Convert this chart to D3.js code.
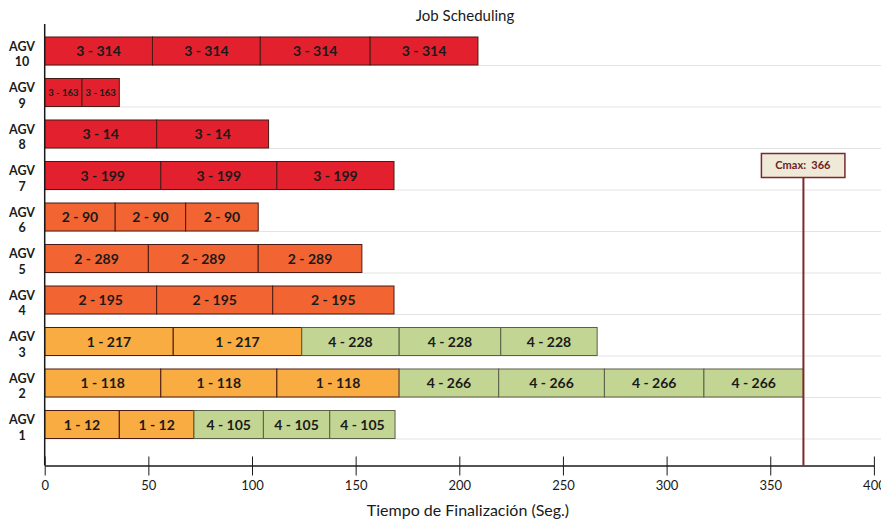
<!DOCTYPE html>
<html><head><meta charset="utf-8">
<script src="https://cdn.jsdelivr.net/npm/d3@7"></script>
<style>body{margin:0;background:#fff}svg{display:block}</style>
</head><body>
<svg id="c" width="881" height="521"></svg>
<script>
const agvNames = ["10","9","8","7","6","5","4","3","2","1"];
const taskLabels = {
  "10": ["3 - 314","3 - 314","3 - 314","3 - 314"],
  "9":  ["3 - 163","3 - 163"],
  "8":  ["3 - 14","3 - 14"],
  "7":  ["3 - 199","3 - 199","3 - 199"],
  "6":  ["2 - 90","2 - 90","2 - 90"],
  "5":  ["2 - 289","2 - 289","2 - 289"],
  "4":  ["2 - 195","2 - 195","2 - 195"],
  "3":  ["1 - 217","1 - 217","4 - 228","4 - 228","4 - 228"],
  "2":  ["1 - 118","1 - 118","1 - 118","4 - 266","4 - 266","4 - 266","4 - 266"],
  "1":  ["1 - 12","1 - 12","4 - 105","4 - 105","4 - 105"]
};
const taskDurations = {
  "10": [52, 52, 53, 52],
  "9":  [18, 18],
  "8":  [54, 54],
  "7":  [56, 56, 56.5],
  "6":  [34, 34, 35],
  "5":  [50, 53, 50],
  "4":  [54, 56, 58.5],
  "3":  [62, 62, 47, 49, 46.5],
  "2":  [56, 56, 59, 48, 51, 48, 48],
  "1":  [36, 36, 33.5, 32, 31.5]
};
const xTicks = [0,50,100,150,200,250,300,350,400];
const cmax = 366;
const jobColors = {"1":"#F9AC42","2":"#F26532","3":"#E3202D","4":"#C3D592"};

const svg = d3.select("#c");
const font = "Lato, 'Open Sans', sans-serif";
const x = d3.scaleLinear().domain([0,400]).range([44.7, 873.9]);
const y = d3.scaleBand().domain(agvNames).range([30.25, 445.25]).paddingInner(0.325).paddingOuter(0.1625);
const axisY = 465.5;

// gridlines at bar bottoms
svg.append("g").selectAll("line").data(agvNames).join("line")
  .attr("x1", x(0)).attr("x2", 881)
  .attr("y1", d => y(d) + y.bandwidth() + 0.5).attr("y2", d => y(d) + y.bandwidth() + 0.5)
  .attr("stroke", "#e3e3e3").attr("stroke-width", 1);

// build segments
const segs = [];
agvNames.forEach(a => {
  let t = 0;
  taskDurations[a].forEach((d, i) => {
    segs.push({agv: a, start: t, end: t + d, label: taskLabels[a][i], job: taskLabels[a][i].split(" ")[0]});
    t += d;
  });
});

const g = svg.append("g");
g.selectAll("rect").data(segs).join("rect")
  .attr("x", d => x(d.start)).attr("width", d => x(d.end) - x(d.start))
  .attr("y", d => y(d.agv)).attr("height", y.bandwidth())
  .attr("fill", d => jobColors[d.job])
  .attr("stroke", d => d.job === "4" ? "#5a5f48" : "#4a1a14").attr("stroke-width", 1);

g.selectAll("text").data(segs).join("text")
  .attr("x", d => (x(d.start) + x(d.end)) / 2)
  .attr("y", d => y(d.agv) + y.bandwidth() / 2)
  .attr("dy", "0.36em").attr("text-anchor", "middle")
  .attr("font-family", font).attr("font-weight", "bold")
  .attr("font-size", d => (x(d.end) - x(d.start)) < 50 ? 9.5 : 14)
  .attr("fill", "#1a1a1a")
  .text(d => d.label);

// y axis line
svg.append("line").attr("x1", x(0)).attr("x2", x(0)).attr("y1", 24).attr("y2", axisY)
  .attr("stroke", "#1a1a1a").attr("stroke-width", 1.5);

// y labels
const yl = svg.append("g").selectAll("text").data(agvNames).join("text")
  .attr("text-anchor", "middle").attr("font-family", font).attr("font-weight", "bold")
  .attr("font-size", 12.5).attr("fill", "#1a1a1a");
yl.append("tspan").attr("x", 22).attr("y", d => y(d) + y.bandwidth()/2 - 0.5).text("AGV");
yl.append("tspan").attr("x", 22).attr("y", d => y(d) + y.bandwidth()/2 + 15).text(d => d);

// x axis
const xa = svg.append("g").attr("transform", `translate(0,${axisY})`)
  .call(d3.axisBottom(x).tickValues(xTicks).tickSize(0).tickPadding(15));
xa.select(".domain").attr("stroke", "#1a1a1a").attr("stroke-width", 1.5);
xa.selectAll(".tick text").attr("font-family", font).attr("font-size", 13).attr("fill", "#1a1a1a");
xa.selectAll(".tick").append("line").attr("y1", -9).attr("y2", 10).attr("stroke", "#1a1a1a").attr("stroke-width", 1);

// cmax
svg.append("line").attr("x1", x(cmax)).attr("x2", x(cmax)).attr("y1", 177).attr("y2", axisY)
  .attr("stroke", "#7A2A2A").attr("stroke-width", 2);
svg.append("rect").attr("x", x(cmax) - 42).attr("y", 153.5).attr("width", 83.5).attr("height", 24)
  .attr("fill", "#EFE9D8").attr("stroke", "#7A2A2A").attr("stroke-width", 1.5);
svg.append("text").attr("x", x(cmax) - 0.5).attr("y", 165.5).attr("dy", "0.36em")
  .attr("text-anchor", "middle").attr("font-family", font).attr("font-weight", "bold")
  .attr("font-size", 11).attr("fill", "#6B2323").attr("xml:space","preserve").text("Cmax:  " + cmax);

// titles
svg.append("text").attr("x", 465).attr("y", 16).attr("dy", "0.36em").attr("text-anchor", "middle")
  .attr("font-family", font).attr("font-size", 15).attr("fill", "#1a1a1a").text("Job Scheduling");
svg.append("text").attr("x", 468).attr("y", 510).attr("dy", "0.36em").attr("text-anchor", "middle")
  .attr("font-family", font).attr("font-size", 16).attr("fill", "#1a1a1a").text("Tiempo de Finalización (Seg.)");
</script>
</body></html>
